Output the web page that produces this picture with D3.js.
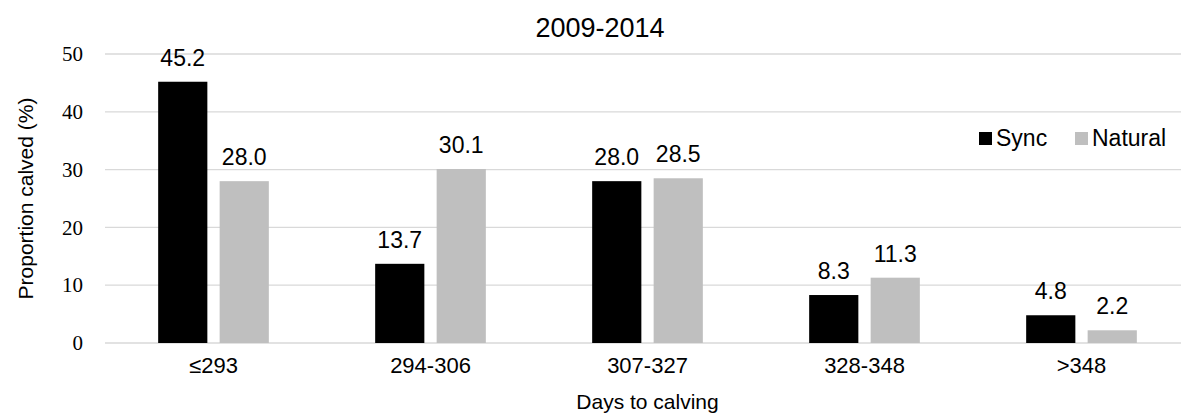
<!DOCTYPE html>
<html>
<head>
<meta charset="utf-8">
<script src="https://cdn.jsdelivr.net/npm/d3@7"></script>
<style>
  body { margin: 0; background: #fff; }
  svg { display: block; }
</style>
</head>
<body>
<div id="chart"></div>
<script>
  var categories = ['≤293', '294-306', '307-327', '328-348', '>348'];
  var seriesNames = ['Sync', 'Natural'];
  var syncValues = [45.2, 13.7, 28.0, 8.3, 4.8];
  var naturalValues = [28.0, 30.1, 28.5, 11.3, 2.2];
  var yTicks = [0, 10, 20, 30, 40, 50];
  var colors = { Sync: '#000000', Natural: '#bfbfbf' };

  var width = 1181, height = 416;
  var margin = { left: 105, right: -9, top: 54, bottom: 73 };
  var sans = '"Liberation Sans", Arial, sans-serif';
  var serif = '"Liberation Serif", "Times New Roman", serif';

  var svg = d3.select('#chart').append('svg')
    .attr('width', width)
    .attr('height', height);

  var x0 = d3.scaleBand()
    .domain(categories)
    .range([margin.left, width - margin.right])
    .paddingInner(0.49)
    .paddingOuter(0.245);

  var x1 = d3.scaleBand()
    .domain(seriesNames)
    .range([0, x0.bandwidth()])
    .paddingInner(0.2);

  var y = d3.scaleLinear()
    .domain([0, 50])
    .range([height - margin.bottom, margin.top]);

  // gridlines
  svg.append('g').selectAll('line.grid').data(yTicks).enter().append('line')
    .attr('class', 'grid')
    .attr('x1', margin.left)
    .attr('x2', width)
    .attr('y1', function(d) { return y(d); })
    .attr('y2', function(d) { return y(d); })
    .attr('stroke', '#d9d9d9')
    .attr('stroke-width', 1.3);

  // y axis labels
  var yAxis = d3.axisLeft(y).tickValues(yTicks).tickSize(0).tickPadding(0);
  var yg = svg.append('g')
    .attr('transform', 'translate(83,0)')
    .call(yAxis);
  yg.select('.domain').remove();
  yg.attr('font-family', null).attr('font-size', null);
  yg.selectAll('text')
    .style('font-family', serif)
    .style('font-size', '21px')
    .attr('fill', '#000');

  // x axis labels
  var xAxis = d3.axisBottom(x0).tickSize(0).tickPadding(0);
  var xg = svg.append('g')
    .attr('transform', 'translate(0,' + (y(0) + 14) + ')')
    .call(xAxis);
  xg.select('.domain').remove();
  xg.attr('font-family', null).attr('font-size', null);
  xg.selectAll('text')
    .style('font-family', sans)
    .style('font-size', '22px')
    .attr('fill', '#000');

  var rows = categories.map(function(c, i) {
    return { cat: c, values: [
      { name: 'Sync', value: syncValues[i] },
      { name: 'Natural', value: naturalValues[i] }
    ] };
  });

  var groups = svg.append('g').selectAll('g.group').data(rows).enter().append('g')
    .attr('class', 'group')
    .attr('transform', function(d) { return 'translate(' + x0(d.cat) + ',0)'; });

  groups.selectAll('rect').data(function(d) { return d.values; }).enter().append('rect')
    .attr('x', function(d) { return x1(d.name); })
    .attr('y', function(d) { return y(d.value); })
    .attr('width', x1.bandwidth())
    .attr('height', function(d) { return y(0) - y(d.value); })
    .attr('fill', function(d) { return colors[d.name]; });

  groups.selectAll('text.val').data(function(d) { return d.values; }).enter().append('text')
    .attr('class', 'val')
    .attr('x', function(d) { return x1(d.name) + x1.bandwidth() / 2; })
    .attr('y', function(d) { return y(d.value) - 16; })
    .attr('text-anchor', 'middle')
    .style('font-family', sans)
    .style('font-size', '23px')
    .attr('fill', '#000')
    .text(function(d) { return d.value.toFixed(1); });

  // title
  svg.append('text')
    .attr('x', 600)
    .attr('y', 37)
    .attr('text-anchor', 'middle')
    .style('font-family', sans)
    .style('font-size', '27px')
    .text('2009-2014');

  // axis titles
  svg.append('text')
    .attr('x', (margin.left + width - margin.right) / 2)
    .attr('y', 409)
    .attr('text-anchor', 'middle')
    .style('font-family', sans)
    .style('font-size', '21px')
    .text('Days to calving');

  svg.append('text')
    .attr('transform', 'translate(33,' + ((margin.top + height - margin.bottom) / 2) + ') rotate(-90)')
    .attr('text-anchor', 'middle')
    .style('font-family', sans)
    .style('font-size', '21px')
    .text('Proportion calved (%)');

  // legend
  var legendX = [979, 1075];
  var legend = svg.append('g').selectAll('g.legend').data(seriesNames).enter().append('g')
    .attr('class', 'legend')
    .attr('transform', function(d, i) { return 'translate(' + legendX[i] + ',132)'; });
  legend.append('rect')
    .attr('width', 13)
    .attr('height', 13)
    .attr('fill', function(d) { return colors[d]; });
  legend.append('text')
    .attr('x', 17)
    .attr('y', 14)
    .style('font-family', sans)
    .style('font-size', '23px')
    .text(function(d) { return d; });
</script>
</body>
</html>
